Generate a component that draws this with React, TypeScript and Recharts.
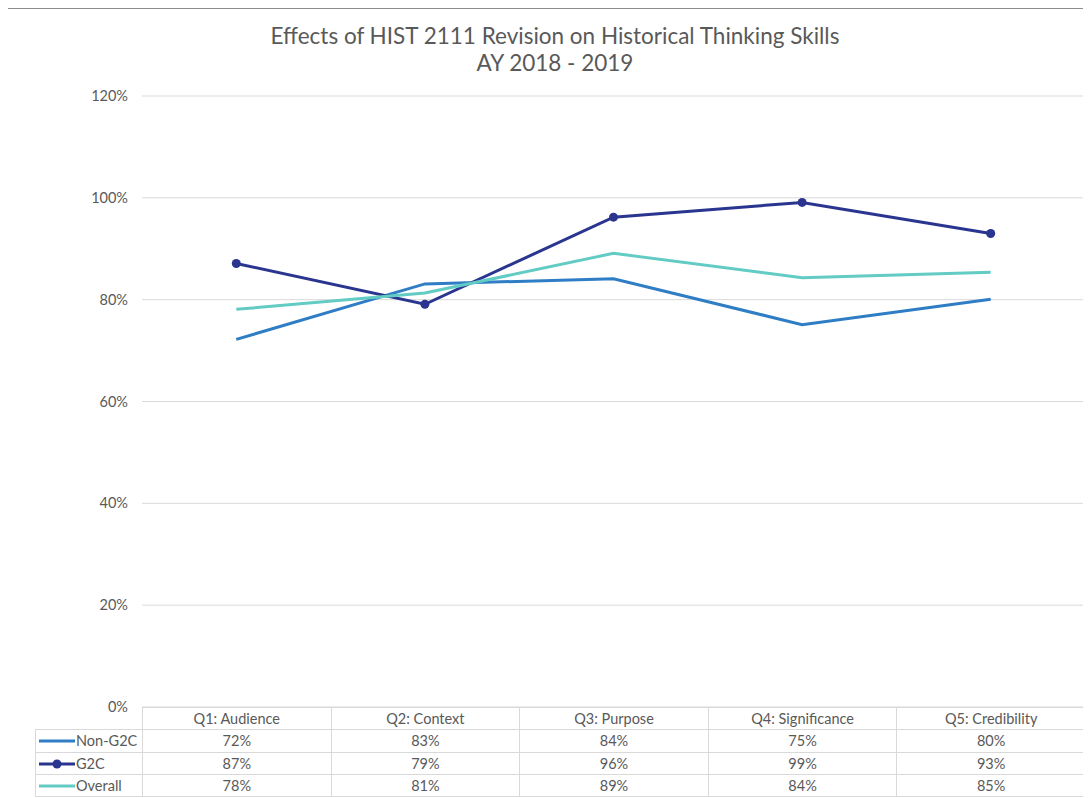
import React from "react";
import { LineChart, Line, XAxis, YAxis, CartesianGrid } from "recharts";

const categories = ["Q1: Audience", "Q2: Context", "Q3: Purpose", "Q4: Significance", "Q5: Credibility"];
const nonG2C = [72.2, 83.1, 84.1, 75.1, 80.1];
const g2c = [87.1, 79.1, 96.2, 99.1, 93.0];
const overall = [78.1, 81.3, 89.1, 84.3, 85.4];
const yTicks = [0, 20, 40, 60, 80, 100, 120];
const titleLines = ["Effects of HIST 2111 Revision on Historical Thinking Skills", "AY 2018 - 2019"];

const seriesDefs = [
  { key: "nonG2C", name: "Non-G2C", values: nonG2C, color: "#2E7DC5", dot: false },
  { key: "g2c", name: "G2C", values: g2c, color: "#2A3590", dot: true },
  { key: "overall", name: "Overall", values: overall, color: "#62CBC3", dot: false },
];

const data = categories.map((c, i) => ({
  cat: c,
  nonG2C: nonG2C[i],
  g2c: g2c[i],
  overall: overall[i],
}));

const FONT = "Lato, 'Noto Sans', sans-serif";
const TEXT = "#595959";
const GRID = "#d9d9d9";

const W = 1083;
const H = 790;
const PLOT_LEFT = 134;
const PLOT_RIGHT = 1077;
const PLOT_TOP = 87;
const PLOT_BOTTOM = 698;

export default function App() {
  const colW = (PLOT_RIGHT - PLOT_LEFT) / categories.length;
  const legendW = 107;
  const cellBorder = `1px solid ${GRID}`;
  const rowH = [22, 23, 22, 22];
  return (
    <div
      style={{
        position: "relative",
        width: W,
        height: H,
        borderLeft: "1px solid #8c8c8c",
        borderTop: "1px solid #8c8c8c",
        marginLeft: -1,
        boxSizing: "border-box",
        fontFamily: FONT,
        background: "#fff",
        overflow: "hidden",
      }}
    >
      <div
        style={{
          position: "absolute",
          left: 0,
          width: 1094,
          top: 13,
          textAlign: "center",
          fontSize: 22.5,
          lineHeight: "27px",
          color: TEXT,
        }}
      >
        {titleLines.map((t) => (
          <div key={t}>{t}</div>
        ))}
      </div>
      <div style={{ position: "absolute", left: 0, top: 0 }}>
        <LineChart
          width={W}
          height={H}
          data={data}
          margin={{ top: PLOT_TOP, right: W - PLOT_RIGHT, left: 0, bottom: H - PLOT_BOTTOM }}
        >
          <CartesianGrid vertical={false} stroke={GRID} strokeWidth={1} />
          <XAxis dataKey="cat" scale="band" hide />
          <YAxis
            width={PLOT_LEFT}
            domain={[0, 120]}
            ticks={yTicks}
            tickFormatter={(v: number) => `${v}%`}
            axisLine={false}
            tickLine={false}
            tickSize={0}
            tickMargin={14}
            tick={{ fill: TEXT, fontSize: 14.5, fontFamily: FONT }}
            interval={0}
          />
          {seriesDefs.map((s) => (
            <Line
              key={s.key}
              dataKey={s.key}
              name={s.name}
              stroke={s.color}
              strokeWidth={3}
              dot={s.dot ? { r: 4.5, fill: s.color, stroke: s.color, strokeWidth: 0 } : false}
              activeDot={false}
              isAnimationActive={false}
            />
          ))}
        </LineChart>
      </div>
      <table
        style={{
          position: "absolute",
          left: PLOT_LEFT - legendW,
          top: PLOT_BOTTOM,
          borderCollapse: "collapse",
          tableLayout: "fixed",
          width: legendW + colW * categories.length,
          fontSize: 14.5,
          lineHeight: "16px",
          color: TEXT,
          fontFamily: FONT,
        }}
      >
        <colgroup>
          <col style={{ width: legendW }} />
          {categories.map((c) => (
            <col key={c} style={{ width: colW }} />
          ))}
        </colgroup>
        <tbody>
          <tr style={{ height: rowH[0] }}>
            <td style={{ padding: 0 }} />
            {categories.map((c) => (
              <td key={c} style={{ border: cellBorder, textAlign: "center", padding: 0 }}>
                {c}
              </td>
            ))}
          </tr>
          {seriesDefs.map((s, ri) => (
            <tr key={s.key} style={{ height: rowH[ri + 1] }}>
              <td style={{ border: cellBorder, padding: 0, whiteSpace: "nowrap" }}>
                <span style={{ display: "inline-flex", alignItems: "center" }}>
                  <svg width={38} height={10} style={{ marginLeft: 2 }}>
                    <line x1={1} y1={5} x2={37} y2={5} stroke={s.color} strokeWidth={3} />
                    {s.dot && <circle cx={19} cy={5} r={4.5} fill={s.color} />}
                  </svg>
                  <span>{s.name}</span>
                </span>
              </td>
              {s.values.map((v, i) => (
                <td key={i} style={{ border: cellBorder, textAlign: "center", padding: 0 }}>
                  {`${Math.round(v)}%`}
                </td>
              ))}
            </tr>
          ))}
        </tbody>
      </table>
    </div>
  );
}
